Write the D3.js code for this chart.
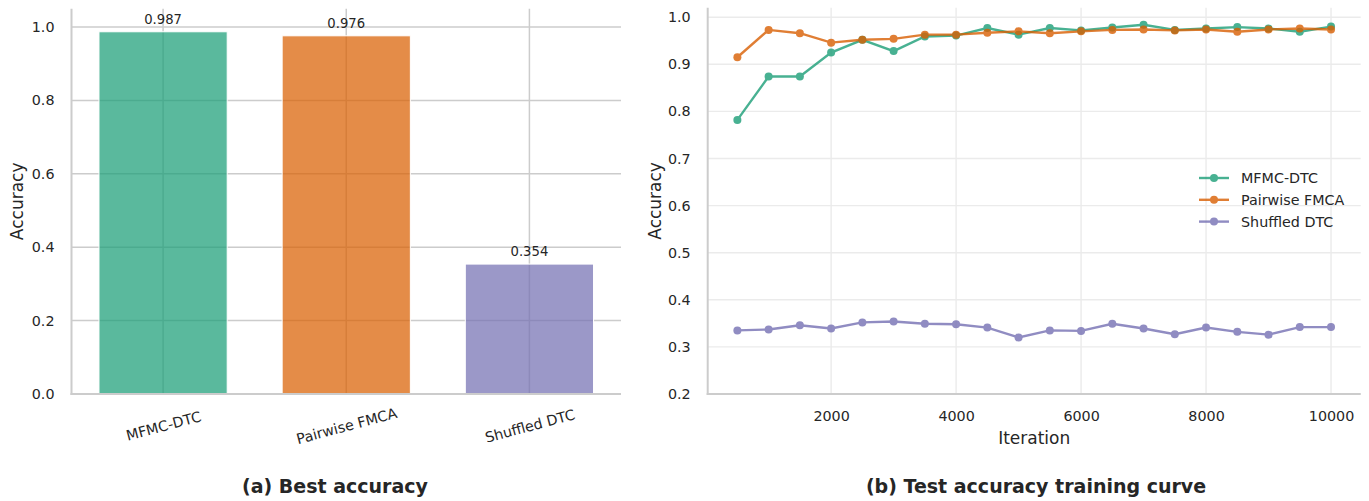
<!DOCTYPE html>
<html>
<head>
<meta charset="utf-8">
<script src="https://cdn.jsdelivr.net/npm/d3@7"></script>
<style>
  html, body { margin: 0; padding: 0; background: #fff; }
  svg { display: block; font-family: "DejaVu Sans", sans-serif; }
  .tick text { fill: #262626; }
</style>
</head>
<body>
<svg id="chart" width="1369" height="501"></svg>
<script>
// ---------- data ----------
const methods = ["MFMC-DTC", "Pairwise FMCA", "Shuffled DTC"];
const bestAccuracy = [0.987, 0.976, 0.354];
const colors = ["#1b9e77", "#d95f02", "#7570b3"];

const iterations = [500, 1000, 1500, 2000, 2500, 3000, 3500, 4000, 4500, 5000,
                    5500, 6000, 6500, 7000, 7500, 8000, 8500, 9000, 9500, 10000];
const mfmcCurve = [0.782, 0.874, 0.874, 0.925, 0.952, 0.928, 0.959, 0.961, 0.977, 0.963,
                   0.977, 0.972, 0.978, 0.984, 0.973, 0.976, 0.979, 0.976, 0.969, 0.980];
const pairwiseCurve = [0.915, 0.973, 0.966, 0.946, 0.952, 0.954, 0.963, 0.963, 0.967, 0.970,
                       0.966, 0.970, 0.973, 0.974, 0.972, 0.974, 0.969, 0.974, 0.976, 0.974];
const shuffledCurve = [0.335, 0.337, 0.346, 0.339, 0.352, 0.354, 0.349, 0.348, 0.341, 0.320,
                       0.335, 0.334, 0.349, 0.339, 0.327, 0.341, 0.332, 0.326, 0.342, 0.342];

const barYTicks = [0.0, 0.2, 0.4, 0.6, 0.8, 1.0];
const curveYTicks = [0.2, 0.3, 0.4, 0.5, 0.6, 0.7, 0.8, 0.9, 1.0];
const curveXTicks = [2000, 4000, 6000, 8000, 10000];
const subtitles = ["(a) Best accuracy", "(b) Test accuracy training curve"];

// ---------- setup ----------
const svg = d3.select("#chart");
const TXT = "#262626", SPINE = "#cccccc";
const TICK_FS = 14.3, LABEL_FS = 17, TITLE_FS = 19;

// ================= Panel (a) =================
const xa = d3.scaleLinear().domain([-0.5, 2.5]).range([71.5, 621]);
const ya = d3.scaleLinear().domain([0, 1.05]).range([394, 8.65]);
const gA = svg.append("g");

// grid
gA.append("g").selectAll("line.h").data(barYTicks).join("line")
  .attr("x1", xa.range()[0]).attr("x2", xa.range()[1])
  .attr("y1", d => ya(d)).attr("y2", d => ya(d))
  .attr("stroke", "#cccccc").attr("stroke-width", 1.5);
gA.append("g").selectAll("line.v").data(methods).join("line")
  .attr("x1", (d, i) => xa(i)).attr("x2", (d, i) => xa(i))
  .attr("y1", ya.range()[0]).attr("y2", ya.range()[1])
  .attr("stroke", "#cccccc").attr("stroke-width", 1.5);

// bars
const barW = xa(0.7) - xa(0);
gA.append("g").selectAll("rect").data(bestAccuracy).join("rect")
  .attr("x", (d, i) => xa(i) - barW / 2)
  .attr("width", barW)
  .attr("y", d => ya(d))
  .attr("height", d => ya(0) - ya(d))
  .attr("fill", (d, i) => colors[i])
  .attr("fill-opacity", 0.72)
  .attr("stroke", "#ffffff").attr("stroke-width", 1);

// bar labels
gA.append("g").selectAll("text").data(bestAccuracy).join("text")
  .attr("x", (d, i) => xa(i))
  .attr("y", d => ya(d) - 8)
  .attr("text-anchor", "middle")
  .attr("font-size", 13.2).attr("fill", TXT)
  .text(d => d.toFixed(3));

// y axis
const yAxisA = gA.append("g").attr("transform", `translate(${xa.range()[0]},0)`)
  .call(d3.axisLeft(ya).tickValues(barYTicks).tickSize(0).tickPadding(17).tickFormat(d3.format(".1f")));
yAxisA.select(".domain").remove();
yAxisA.selectAll("text").attr("font-size", TICK_FS).attr("font-family", "DejaVu Sans");

// x axis (rotated labels)
const xAxisA = gA.append("g").attr("transform", `translate(0,${ya(0)})`)
  .call(d3.axisBottom(xa).tickValues([0, 1, 2]).tickSize(0).tickFormat(i => methods[i]));
xAxisA.select(".domain").remove();
xAxisA.selectAll("text")
  .attr("font-size", TICK_FS).attr("font-family", "DejaVu Sans")
  .attr("y", 0).attr("dy", 0)
  .attr("dominant-baseline", "central")
  .attr("text-anchor", "middle")
  .attr("transform", "translate(0,32) rotate(-15)");

// spines
gA.append("line").attr("x1", xa.range()[0]).attr("x2", xa.range()[0])
  .attr("y1", ya.range()[1]).attr("y2", ya.range()[0] + 1)
  .attr("stroke", SPINE).attr("stroke-width", 2);
gA.append("line").attr("x1", xa.range()[0] - 1).attr("x2", xa.range()[1])
  .attr("y1", ya.range()[0]).attr("y2", ya.range()[0])
  .attr("stroke", SPINE).attr("stroke-width", 2);

// y label
gA.append("text").attr("transform", `translate(17,${(ya.range()[0] + ya.range()[1]) / 2}) rotate(-90)`)
  .attr("text-anchor", "middle").attr("dominant-baseline", "central")
  .attr("font-size", LABEL_FS).attr("fill", TXT).text("Accuracy");

// subtitle
gA.append("text").attr("x", 335).attr("y", 493)
  .attr("text-anchor", "middle").attr("font-weight", "bold")
  .attr("font-size", TITLE_FS).attr("fill", TXT).text(subtitles[0]);

// ================= Panel (b) =================
const xb = d3.scaleLinear().domain([25, 10475]).range([707.7, 1360.7]);
const yb = d3.scaleLinear().domain([0.2, 1.02]).range([394, 394 - 0.82 * 471]);
const gB = svg.append("g");

gB.append("g").selectAll("line").data(curveYTicks).join("line")
  .attr("x1", xb.range()[0]).attr("x2", xb.range()[1])
  .attr("y1", d => yb(d)).attr("y2", d => yb(d))
  .attr("stroke", "#ebebeb").attr("stroke-width", 1.4);
gB.append("g").selectAll("line").data(curveXTicks).join("line")
  .attr("x1", d => xb(d)).attr("x2", d => xb(d))
  .attr("y1", yb.range()[0]).attr("y2", yb.range()[1])
  .attr("stroke", "#ebebeb").attr("stroke-width", 1.4);

const yAxisB = gB.append("g").attr("transform", `translate(${xb.range()[0]},0)`)
  .call(d3.axisLeft(yb).tickValues(curveYTicks).tickSize(0).tickPadding(17).tickFormat(d3.format(".1f")));
yAxisB.select(".domain").remove();
yAxisB.selectAll("text").attr("font-size", TICK_FS).attr("font-family", "DejaVu Sans");

const xAxisB = gB.append("g").attr("transform", `translate(0,${yb.range()[0]})`)
  .call(d3.axisBottom(xb).tickValues(curveXTicks).tickSize(0).tickPadding(17).tickFormat(d3.format("d")));
xAxisB.select(".domain").remove();
xAxisB.selectAll("text").attr("font-size", TICK_FS).attr("font-family", "DejaVu Sans");

const series = [
  { name: methods[0], values: mfmcCurve, color: colors[0] },
  { name: methods[1], values: pairwiseCurve, color: colors[1] },
  { name: methods[2], values: shuffledCurve, color: colors[2] }
];
const line = d3.line().x((d, i) => xb(iterations[i])).y(d => yb(d));

series.forEach(s => {
  const g = gB.append("g").attr("opacity", 0.8);
  g.append("path").datum(s.values).attr("d", line)
    .attr("fill", "none").attr("stroke", s.color).attr("stroke-width", 2.4);
  g.selectAll("circle").data(s.values).join("circle")
    .attr("cx", (d, i) => xb(iterations[i])).attr("cy", d => yb(d))
    .attr("r", 4).attr("fill", s.color);
});

// spines
gB.append("line").attr("x1", xb.range()[0]).attr("x2", xb.range()[0])
  .attr("y1", yb.range()[1]).attr("y2", yb.range()[0] + 1)
  .attr("stroke", SPINE).attr("stroke-width", 2);
gB.append("line").attr("x1", xb.range()[0] - 1).attr("x2", xb.range()[1])
  .attr("y1", yb.range()[0]).attr("y2", yb.range()[0])
  .attr("stroke", SPINE).attr("stroke-width", 2);

// labels
gB.append("text").attr("transform", `translate(655,${(yb.range()[0] + yb.range()[1]) / 2}) rotate(-90)`)
  .attr("text-anchor", "middle").attr("dominant-baseline", "central")
  .attr("font-size", LABEL_FS).attr("fill", TXT).text("Accuracy");
gB.append("text").attr("x", (xb.range()[0] + xb.range()[1]) / 2).attr("y", 438)
  .attr("text-anchor", "middle").attr("dominant-baseline", "central")
  .attr("font-size", LABEL_FS).attr("fill", TXT).text("Iteration");
gB.append("text").attr("x", 1036).attr("y", 493)
  .attr("text-anchor", "middle").attr("font-weight", "bold")
  .attr("font-size", TITLE_FS).attr("fill", TXT).text(subtitles[1]);

// legend
const leg = gB.append("g").attr("transform", "translate(1199,178)");
series.forEach((s, i) => {
  const r = leg.append("g").attr("transform", `translate(0,${i * 21.8})`);
  const h = r.append("g").attr("opacity", 0.8);
  h.append("line").attr("x1", 0).attr("x2", 30).attr("y1", 0).attr("y2", 0)
    .attr("stroke", s.color).attr("stroke-width", 2.4);
  h.append("circle").attr("cx", 15).attr("cy", 0).attr("r", 4).attr("fill", s.color);
  r.append("text").attr("x", 42).attr("y", 0).attr("dominant-baseline", "central")
    .attr("font-size", TICK_FS).attr("fill", TXT).text(s.name);
});
</script>
</body>
</html>
